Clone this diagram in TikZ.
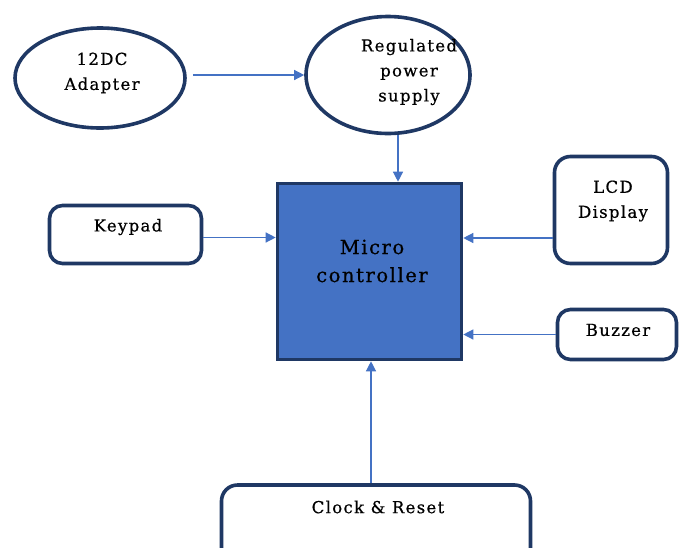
\documentclass[tikz,border=0pt]{standalone}
\usepackage{fontspec}
\setmainfont{DejaVu Serif}[LetterSpace=8,FakeBold=0.6]
\usetikzlibrary{shapes.geometric,arrows.meta}
\definecolor{navy}{HTML}{1F3864}
\definecolor{blu}{HTML}{4472C4}
\begin{document}
\begin{tikzpicture}[x=1pt,y=-1pt,
  ell/.style={ellipse,draw=navy,line width=3.6pt,fill=white,inner sep=0pt},
  rbox/.style={draw=navy,line width=3.6pt,rounded corners=13pt,fill=white,inner sep=0pt},
  conn/.style={draw=blu,line width=1.3pt,-{Triangle[length=10pt,width=10pt]}},
  lbl/.style={font=\fontsize{16.5}{25}\selectfont,align=center,inner sep=0pt},
  mclbl/.style={font=\fontsize{19.5}{28}\selectfont,align=center,inner sep=0pt}]
\useasboundingbox (0,0) rectangle (683,547);
\node[ell,minimum width=170pt,minimum height=100pt] (adp) at (100,78) {};
\node[lbl] (adpt) at (102,73) {12DC\\Adapter};
\node[ell,minimum width=164pt,minimum height=117pt] (rps) at (388,75) {};
\node[lbl] (rpst) at (409,72) {Regulated\\power\\supply};
\node[draw=navy,line width=3.6pt,fill=blu,minimum width=184pt,minimum height=176pt,inner sep=0pt] (mc) at (369.5,271.5) {};
\node[mclbl] (mct) at (372,261) {Micro\\controller};
\node[rbox,minimum width=152pt,minimum height=58pt] (kp) at (125.5,234.5) {};
\node[lbl] (kpt) at (128,227) {Keypad};
\node[rbox,rounded corners=16pt,minimum width=113pt,minimum height=107pt] (lcd) at (611,210) {};
\node[lbl] (lcdt) at (613,201) {LCD\\Display};
\node[rbox,minimum width=119pt,minimum height=50pt] (bz) at (617,334.5) {};
\node[lbl] (bzt) at (618,330) {Buzzer};
\node[rbox,rounded corners=16pt,minimum width=309pt,minimum height=80pt] (clk) at (376,525) {};
\node[lbl] (clkt) at (378,507) {Clock \& Reset};
\draw[conn] ([xshift=6pt,yshift=3pt]adp.east) -- (rps.west);
\draw[conn] ([xshift=10pt]rps.south) -- ([xshift=10pt]rps.south |- mc.north);
\draw[conn] ([yshift=-3pt]kp.east) -- ([yshift=-3pt]kp.east -| mc.west);
\draw[conn] ([yshift=-28pt]lcd.west) -- ([yshift=-28pt]lcd.west -| mc.east);
\draw[conn] (bz.west) -- (bz.west -| mc.east);
\draw[conn] ([xshift=-5pt]clk.north) -- ([xshift=-5pt]clk.north |- mc.south);
\end{tikzpicture}
\end{document}
